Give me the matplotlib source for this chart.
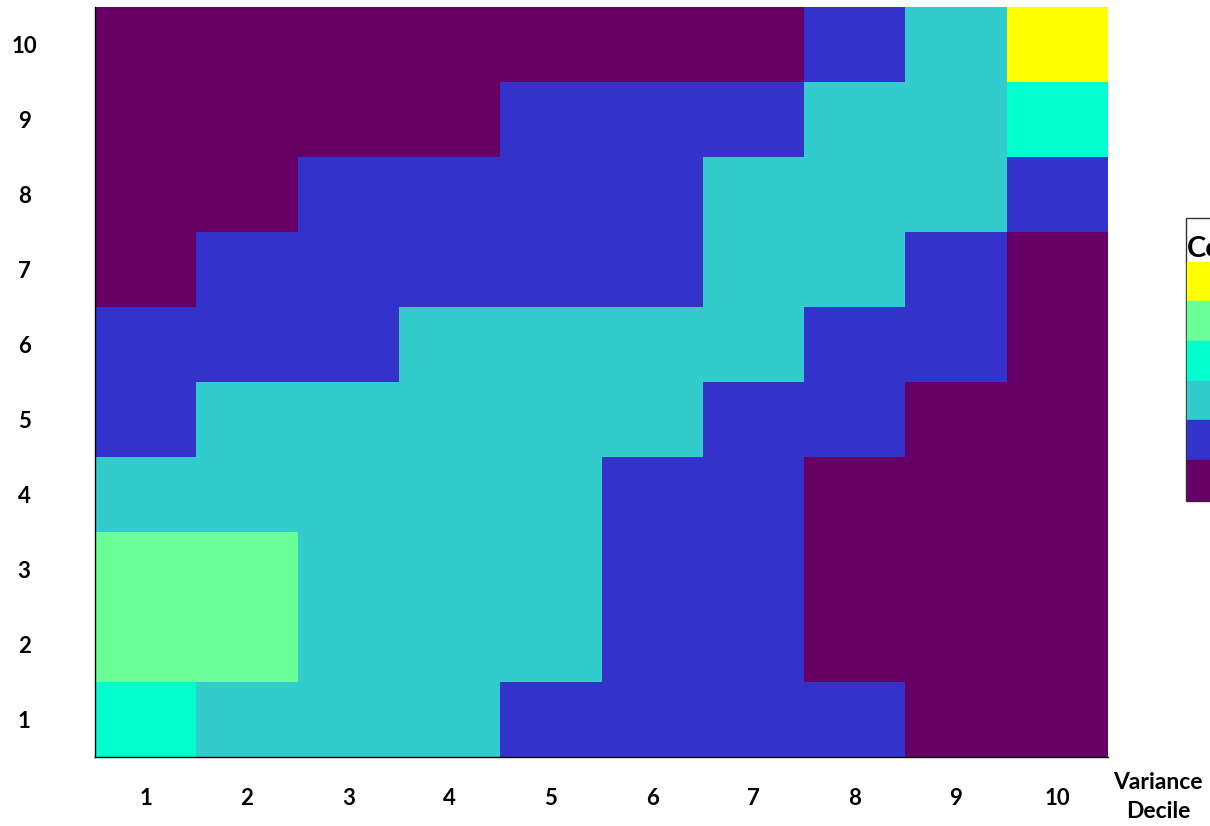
import matplotlib
matplotlib.use("Agg")
import matplotlib.pyplot as plt
import numpy as np
from matplotlib.colors import ListedColormap, BoundaryNorm
from matplotlib.patches import Patch

plt.rcParams['font.family'] = ['Lato', 'DejaVu Sans']

variance_deciles = [1, 2, 3, 4, 5, 6, 7, 8, 9, 10]
row_deciles = [1, 2, 3, 4, 5, 6, 7, 8, 9, 10]
level_colors = ['#660066', '#3333CC', '#33CCCC', '#00FFCC', '#6BFF97', '#FFFF00']

# rows listed from decile 1 (bottom) to decile 10 (top)
levels = [
    [3, 2, 2, 2, 1, 1, 1, 1, 0, 0],
    [4, 4, 2, 2, 2, 1, 1, 0, 0, 0],
    [4, 4, 2, 2, 2, 1, 1, 0, 0, 0],
    [2, 2, 2, 2, 2, 1, 1, 0, 0, 0],
    [1, 2, 2, 2, 2, 2, 1, 1, 0, 0],
    [1, 1, 1, 2, 2, 2, 2, 1, 1, 0],
    [0, 1, 1, 1, 1, 1, 2, 2, 1, 0],
    [0, 0, 1, 1, 1, 1, 2, 2, 2, 1],
    [0, 0, 0, 0, 1, 1, 1, 2, 2, 3],
    [0, 0, 0, 0, 0, 0, 0, 1, 2, 5],
]

fig = plt.figure(figsize=(12.1, 8.26), dpi=100)
ax = fig.add_axes([95/1210, 1-757/826, (1108-95)/1210, (757-7)/826])

cmap = ListedColormap(level_colors)
norm = BoundaryNorm(np.arange(-0.5, len(level_colors)+0.5, 1), cmap.N)
data = np.array(levels)
x_edges = np.arange(len(variance_deciles)+1) + 0.5
y_edges = np.arange(len(row_deciles)+1) + 0.5
ax.pcolormesh(x_edges, y_edges, data, cmap=cmap, norm=norm)
ax.set_xlim(0.5, 10.5)
ax.set_ylim(0.5, 10.5)

fs = 16
ax.set_xticks(variance_deciles)
ax.set_xticklabels([str(v) for v in variance_deciles], fontsize=fs, fontweight='bold')
ax.set_yticks(row_deciles)
ax.set_yticklabels([str(v) for v in row_deciles], fontsize=fs, fontweight='bold', ha='center')
ax.tick_params(axis='x', length=0, pad=22)
ax.tick_params(axis='y', length=0, pad=51)
for s in ['top', 'right']:
    ax.spines[s].set_visible(False)
for s in ['left', 'bottom']:
    ax.spines[s].set_color('black')
    ax.spines[s].set_linewidth(1.0)

fig.text(1158/1210, 1-797/826, 'Variance\nDecile', ha='center', va='center',
         fontsize=16.5, fontweight='bold', linespacing=1.45)

handles = [Patch(facecolor=c, edgecolor=c, linewidth=1.0) for c in reversed(level_colors)]
leg = fig.legend(handles, [''] * len(handles), title='\nCount',
                 loc='upper left', bbox_to_anchor=(1186/1210, 1-218/826),
                 fontsize=fs, title_fontproperties={'weight': 'bold', 'size': 21},
                 borderpad=0.05, labelspacing=0, handleheight=2.37, handlelength=3,
                 handletextpad=0.2, frameon=True, fancybox=False, borderaxespad=0,
                 alignment='left')
leg.get_title().set_linespacing(0.55)
leg.get_frame().set_edgecolor('black')
leg.get_frame().set_linewidth(1.0)

fig.savefig('out.png', dpi=100)
